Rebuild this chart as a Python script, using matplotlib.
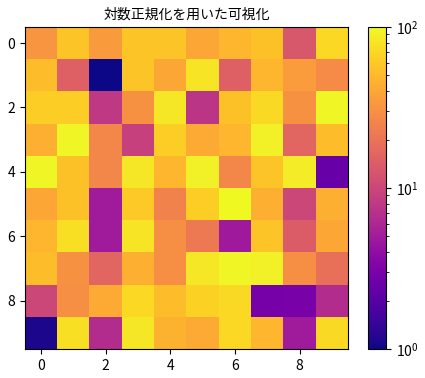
import matplotlib.pyplot as plt
from matplotlib.colors import LogNorm
import numpy as np

plt.rcParams['font.family'] = ['Noto Sans CJK JP', 'DejaVu Sans']

TITLE = "対数正規化を用いた可視化"

row0 = [32, 57, 34, 57, 57, 40, 48, 55, 13, 70]
row1 = [52, 15, 1, 57, 40, 80, 15, 48, 35, 28]
row2 = [63, 63, 8, 30, 83, 7.6, 55, 72, 30, 95]
row3 = [44, 95, 26, 9, 63, 42, 48, 91, 16, 52]
row4 = [95, 55, 26, 83, 48, 91, 26, 57, 87, 2.5]
row5 = [40, 55, 5, 60, 25, 63, 100, 44, 10, 44]
row6 = [48, 76, 5, 80, 29, 22, 4.8, 57, 14, 40]
row7 = [52, 30, 16, 44, 29, 83, 95, 91, 29, 19]
row8 = [10, 29, 42, 70, 52, 66, 72, 2.9, 3.0, 6.6]
row9 = [1.1, 76, 6.6, 83, 46, 42, 70, 48, 5, 72]

values = np.array([row0, row1, row2, row3, row4, row5, row6, row7, row8, row9])

fig = plt.figure(figsize=(4.25, 3.78), dpi=100)
ax = fig.add_axes([25 / 425, 29 / 378, 323 / 425, 322 / 378])
cax = fig.add_axes([368 / 425, 29 / 378, 18 / 425, 322 / 378])

im = ax.imshow(values, cmap="plasma", norm=LogNorm(vmin=1, vmax=100), aspect="auto")
ax.set_title(TITLE, fontsize=10)
fig.colorbar(im, cax=cax)

fig.savefig("out.png", dpi=100)
